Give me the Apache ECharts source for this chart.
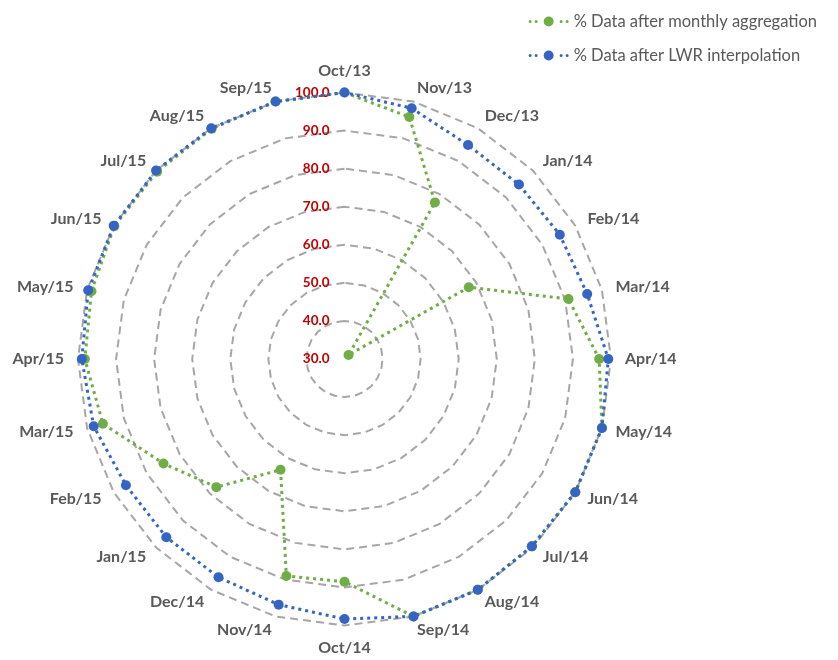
<!DOCTYPE html>
<html><head><meta charset="utf-8">
<script src="https://cdn.jsdelivr.net/npm/echarts@6/dist/echarts.min.js"></script>
<style>html,body{margin:0;padding:0;background:#fff}#c{width:838px;height:660px}</style>
</head><body><div id="c"></div>
<script>
const categories = ['Oct/13','Nov/13','Dec/13','Jan/14','Feb/14','Mar/14','Apr/14','May/14','Jun/14','Jul/14','Aug/14','Sep/14','Oct/14','Nov/14','Dec/14','Jan/15','Feb/15','Mar/15','Apr/15','May/15','Jun/15','Jul/15','Aug/15','Sep/15'];
const monthlyAggregation = [100, 95.8, 77.5, 31.5, 67.7, 90.9, 96.9, 100, 100, 99.6, 100, 100, 88.5, 89.0, 63.6, 77.6, 84.9, 95.7, 98.2, 98.8, 99.8, 99.6, 99.8, 100];
const lwrInterpolation = [100, 98.2, 94.9, 94.8, 95.3, 96.0, 99.3, 100, 100, 99.6, 100, 100, 98.3, 96.8, 96.2, 96.2, 96.3, 98.2, 99.0, 99.7, 100, 100, 100, 100];
const seriesNames = ['% Data after monthly aggregation', '% Data after LWR interpolation'];
const radialMin = 30, radialMax = 100, radialSplits = 7;

// ECharts lays radar indicators out counter-clockwise; reorder so the chart reads clockwise.
const cw = arr => [arr[0]].concat(arr.slice(1).reverse());

const FONT = 'Lato, "Open Sans", sans-serif';
const indicators = cw(categories).map((name, i) => {
  const ind = { name: name, min: radialMin, max: radialMax };
  if (i === 0) {
    ind.axisLabel = {
      show: true, color: '#C00000', fontWeight: 'bold', fontSize: 13.5, fontFamily: FONT,
      margin: 15, formatter: v => Number(v).toFixed(1)
    };
  }
  return ind;
});

// legend marker: dotted line with a circle marker in the middle
function circ(cx, cy, r) {
  return 'M' + (cx - r) + ' ' + cy + ' a' + r + ' ' + r + ' 0 1 0 ' + (2 * r) + ' 0 a' + r + ' ' + r + ' 0 1 0 ' + (-2 * r) + ' 0 Z ';
}
const legendIcon = 'path://' + circ(1.5, 5, 1.5) + circ(7.5, 5, 1.5) + circ(20, 5, 5) + circ(32.5, 5, 1.5) + circ(38.5, 5, 1.5);

const chart = echarts.init(document.getElementById('c'));
chart.setOption({
  backgroundColor: '#ffffff',
  animation: false,
  legend: {
    orient: 'vertical', right: 16, top: 8, itemGap: 17, itemWidth: 40, itemHeight: 10,
    icon: legendIcon,
    textStyle: { color: '#595959', fontSize: 16.5, fontFamily: FONT },
    data: seriesNames
  },
  radar: {
    center: [344.5, 359], radius: 266.5, startAngle: 90, shape: 'polygon',
    splitNumber: radialSplits,
    indicator: indicators,
    axisName: { color: '#595959', fontWeight: 'bold', fontSize: 16, fontFamily: FONT },
    nameGap: 14,
    axisLine: { show: false },
    axisTick: { show: false },
    splitArea: { show: false },
    splitLine: { lineStyle: { color: '#A6A6A6', width: 2, type: [8, 5] } }
  },
  series: [
    {
      type: 'radar', name: seriesNames[0], z: 3,
      symbol: 'circle', symbolSize: 10,
      itemStyle: { color: '#70AD47' },
      lineStyle: { color: '#70AD47', width: 3, type: [3, 4] },
      data: [{ name: seriesNames[0], value: cw(monthlyAggregation) }]
    },
    {
      type: 'radar', name: seriesNames[1], z: 4,
      symbol: 'circle', symbolSize: 10,
      itemStyle: { color: '#3564C3' },
      lineStyle: { color: '#3564C3', width: 3, type: [3, 4] },
      data: [{ name: seriesNames[1], value: cw(lwrInterpolation) }]
    }
  ]
});
</script></body></html>
